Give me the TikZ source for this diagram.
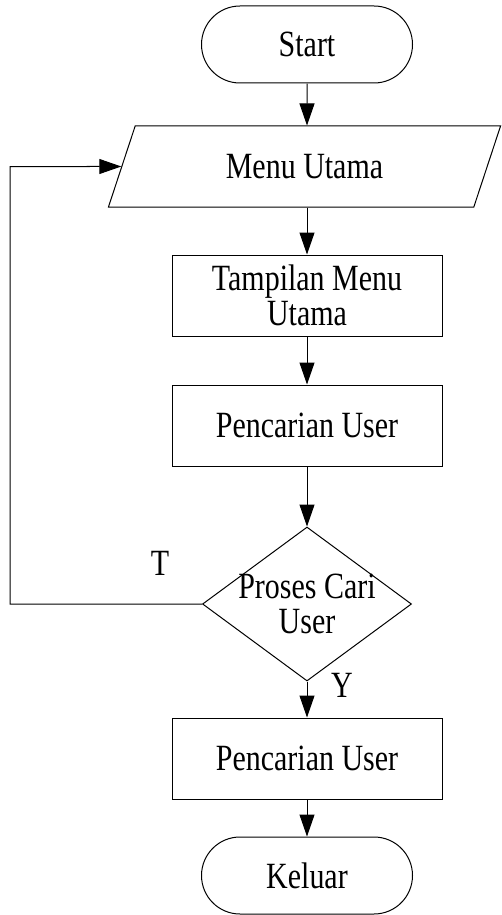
\documentclass[tikz,border=0pt]{standalone}
\usepackage{fontspec}
\newfontfamily\flowfont[FakeStretch=0.81]{Liberation Serif}
\usetikzlibrary{shapes.geometric,shapes.misc,arrows.meta}
\begin{document}
\begin{tikzpicture}[x=1pt,y=-1pt,
  every node/.style={font={\flowfont\fontsize{37}{35}\selectfont}, inner sep=0pt},
  terminal/.style={rounded rectangle, draw, line width=1pt, minimum width=211pt, minimum height=77pt},
  procbox/.style={rectangle, draw, line width=1pt, minimum width=270pt, minimum height=81pt, align=center},
  flowarrow/.style={line width=1pt, -{Triangle[length=22pt,width=15pt]}}]
\useasboundingbox (0,0) rectangle (502,915);
\node[terminal] (start) at (307,44.5) {Start};
\node[draw, trapezium, trapezium left angle=63.2, trapezium right angle=116.8,
      trapezium stretches=true, minimum width=393pt, minimum height=81pt,
      line width=1pt] (menu) at (304.5,166.5) {Menu Utama};
\node[procbox] (tampil) at (307,295.5) {Tampilan Menu\\Utama};
\node[procbox] (cari) at (307,425.5) {Pencarian User};
\node[diamond, draw, line width=1pt, minimum width=209pt, minimum height=154pt,
      label={[align=center]center:Proses Cari\\User}] (proses) at (307,604) {};
\node[procbox] (hasil) at (307,758.5) {Pencarian User};
\node[terminal] (keluar) at (307,875.5) {Keluar};
\node (tlabel) at (160,563) {T};
\node (ylabel) at (342,685) {Y};
\coordinate (loopc) at (10,166.5);
\draw[flowarrow] (start) -- (start |- menu.north);
\draw[flowarrow] (tampil |- menu.south) -- (tampil);
\draw[flowarrow] (tampil) -- (cari);
\draw[flowarrow] (cari) -- (proses);
\draw[flowarrow] (proses) -- (hasil);
\draw[flowarrow] (hasil) -- (keluar);
\draw[flowarrow] (proses.west) -| (loopc) -- (menu.west);
\end{tikzpicture}
\end{document}
